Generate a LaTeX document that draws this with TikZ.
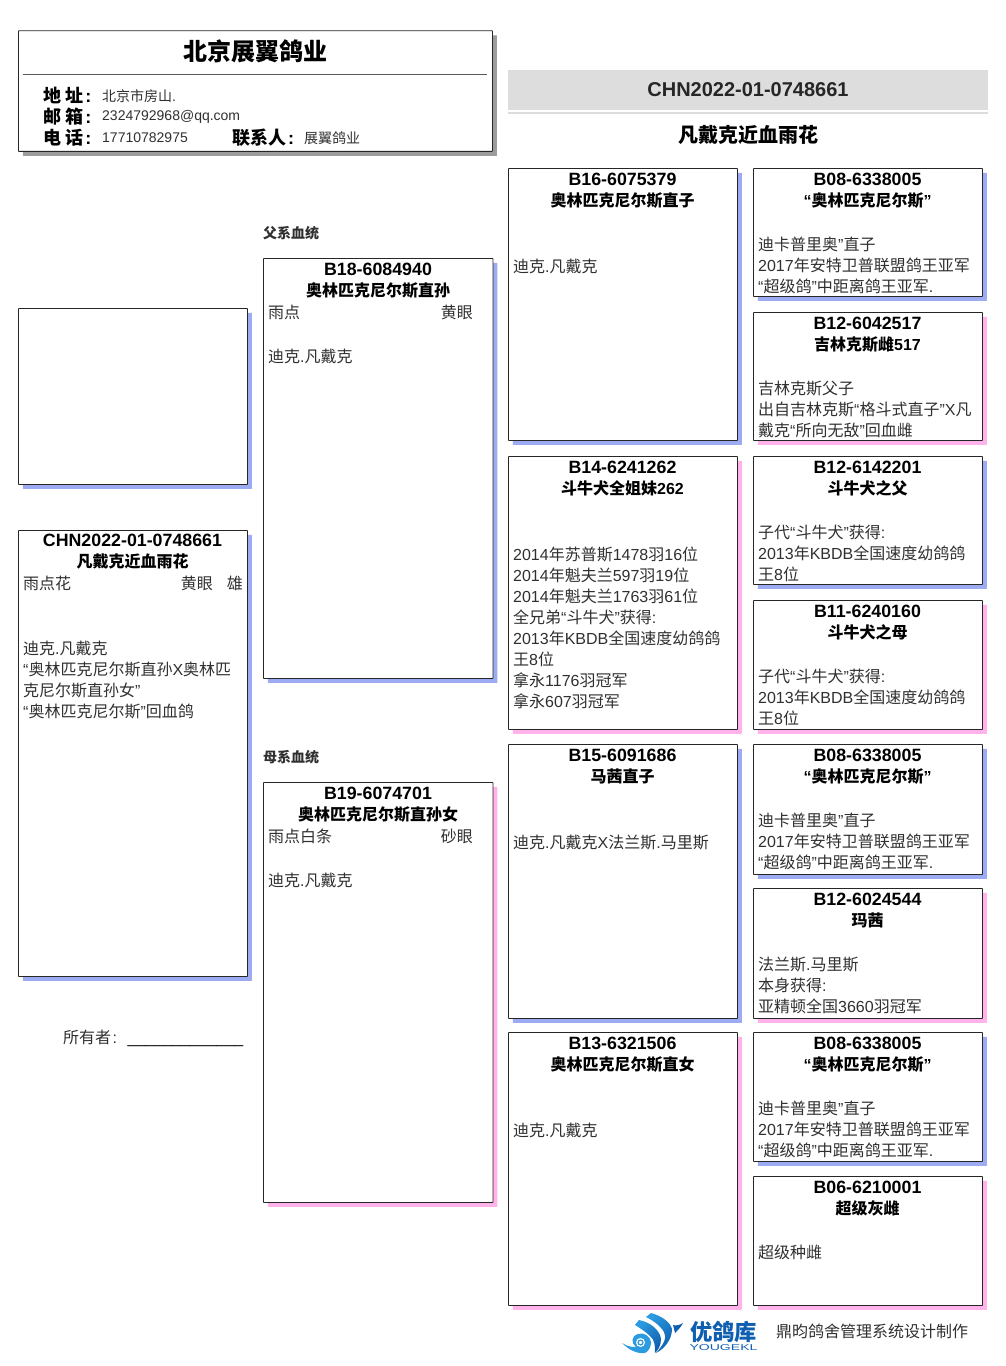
\documentclass[tikz,border=0pt]{standalone}
\usepackage{fontspec}
\setmainfont{Liberation Sans}
\newfontfamily\zhfont{Noto Sans CJK SC}
\newfontfamily\latinfont{Liberation Sans}
\newcommand{\en}[1]{{\latinfont #1}}
\usetikzlibrary{shadows}
\definecolor{shadowblue}{HTML}{9DABF2}
\definecolor{shadowpink}{HTML}{FFB3EA}
\definecolor{shadowgray}{HTML}{9C9C9C}
\definecolor{bandgray}{HTML}{DDDDDD}
\definecolor{inkgray}{HTML}{303030}
\definecolor{logoblue}{HTML}{0F5FB0}
\definecolor{logosky}{HTML}{2C9BE0}
\begin{document}
\begin{tikzpicture}[x=1pt, y=-1pt,
	card/.style={draw=black!85, fill=white, line width=0.9pt, rounded corners=0.5pt, anchor=north west, inner sep=0pt},
	bluebox/.style={card, general shadow={fill=shadowblue, shadow xshift=4.5pt, shadow yshift=-4.5pt}},
	pinkbox/.style={card, general shadow={fill=shadowpink, shadow xshift=4.5pt, shadow yshift=-4.5pt}},
	graybox/.style={card, general shadow={fill=shadowgray, shadow xshift=4.5pt, shadow yshift=-4.5pt}},
	ringno/.style={font=\latinfont\bfseries\fontsize{17.8}{21}\selectfont, inner sep=0pt, text=black},
	birdname/.style={font=\zhfont\bfseries\fontsize{16}{21}\selectfont, inner sep=0pt, text=black, anchor=base, yshift=-6.4pt},
	note/.style={font=\zhfont\fontsize{16}{21}\selectfont, inner sep=0pt, anchor=north west, align=left, text=inkgray, yshift=-1pt},
	trait/.style={font=\zhfont\fontsize{16}{21}\selectfont, inner sep=0pt, text=inkgray},
	sidehead/.style={font=\zhfont\bfseries\fontsize{14}{16}\selectfont, inner sep=0pt, anchor=west, text=inkgray},
	infohead/.style={font=\zhfont\bfseries\fontsize{18}{21}\selectfont, inner sep=0pt, anchor=west},
	infotext/.style={font=\zhfont\fontsize{14}{16}\selectfont, inner sep=0pt, anchor=west, text=inkgray}]
	\useasboundingbox (0,0) rectangle (1006,1366);

	% Farm header
	\node[graybox, minimum width=474pt, minimum height=120.6pt] (farm) at (18,30.3) {};
	\node[font=\zhfont\bfseries\fontsize{24}{28}\selectfont, inner sep=0pt] (farmname) at (255.5,51) {北京展翼鸽业};
	\coordinate (ruleL) at (23,74.5);
	\coordinate (ruleR) at (487,74.5);
	\draw[black!65] (ruleL) -- (ruleR);
	\node[infohead] (addrhead) at (43,95) {地 址\hspace{2pt}\en{:}};
	\node[infohead] (mailhead) at (43,116.4) {邮 箱\hspace{2pt}\en{:}};
	\node[infohead] (telhead) at (43,137.4) {电 话\hspace{2pt}\en{:}};
	\node[infohead] (contacthead) at (232,137.4) {联系人\hspace{2pt}\en{:}};
	\node[infotext] (addr) at (102,96) {北京市房山\en{.}};
	\node[infotext] (mail) at (102,117) {\en{2324792968@qq.com}};
	\node[infotext] (tel) at (102,138) {\en{17710782975}};
	\node[infotext] (contact) at (304,138) {展翼鸽业};

	% Title band
	\node[fill=bandgray, anchor=north west, inner sep=0pt, minimum width=480pt, minimum height=40pt] (band) at (508,70) {};
	\node[fill=bandgray, anchor=north west, inner sep=0pt, minimum width=480pt, minimum height=2pt] (bandline) at (508,112) {};
	\node[font=\latinfont\bfseries\fontsize{20}{24}\selectfont, text=black!85, inner sep=0pt] (ring) at (748,90) {CHN2022-01-0748661};
	\node[font=\zhfont\bfseries\fontsize{20}{24}\selectfont, inner sep=0pt] (name) at (748,135) {凡戴克近血雨花};

	% Photo and subject
	\node[bluebox, minimum width=229pt, minimum height=176pt] (photo) at (18,308) {};
	\node[bluebox, minimum width=229pt, minimum height=446pt] (self) at (18,530) {};
	\node[ringno] (selfring) at (132.5,540) {CHN2022-01-0748661};
	\node[birdname] (selfname) at (132.5,561) {凡戴克近血雨花};
	\node[trait, anchor=west] (selfcolor) at (23,583) {雨点花};
	\node[trait, anchor=east] (selfeye) at (213,583) {黄眼};
	\node[trait, anchor=east] (selfsex) at (243,583) {雄};
	\node[note] (selfnote) at (23,640) {迪克\en{.}凡戴克\\\en{“}奥林匹克尼尔斯直孙\en{X}奥林匹\\克尼尔斯直孙女\en{”}\\\en{“}奥林匹克尼尔斯\en{”}回血鸽};
	\node[trait, anchor=west] (owner) at (63,1037) {所有者\hspace{1.5pt}\en{:}};
	\node[trait, anchor=west, text=black] (ownerline) at (127.5,1045) {\en{\_\_\_\_\_\_\_\_\_\_\_\_\_}};

	% Parents
	\node[sidehead] (sirehead) at (263,233) {父系血统};
	\node[bluebox, minimum width=229.5pt, minimum height=420pt] (sire) at (263,258) {};
	\node[ringno] (sirering) at (378,269) {B18-6084940};
	\node[birdname] (sirename) at (378,290) {奥林匹克尼尔斯直孙};
	\node[trait, anchor=west] (sirecolor) at (268,312) {雨点};
	\node[trait, anchor=east] (sireeye) at (473,312) {黄眼};
	\node[note] (sirenote) at (268,348) {迪克\en{.}凡戴克};

	\node[sidehead] (damhead) at (263,757) {母系血统};
	\node[pinkbox, minimum width=229.5pt, minimum height=420pt] (dam) at (263,782) {};
	\node[ringno] (damring) at (378,793) {B19-6074701};
	\node[birdname] (damname) at (378,814) {奥林匹克尼尔斯直孙女};
	\node[trait, anchor=west] (damcolor) at (268,836) {雨点白条};
	\node[trait, anchor=east] (dameye) at (473,836) {砂眼};
	\node[note] (damnote) at (268,872) {迪克\en{.}凡戴克};

	% Grandparents
	\node[bluebox, minimum width=229pt, minimum height=272pt] (gpa) at (508,168) {};
	\node[ringno] (gparing) at (622.5,179) {B16-6075379};
	\node[birdname] (gpaname) at (622.5,200) {奥林匹克尼尔斯直子};
	\node[note] (gpanote) at (513,258) {迪克\en{.}凡戴克};

	\node[pinkbox, minimum width=229pt, minimum height=273pt] (gpb) at (508,456) {};
	\node[ringno] (gpbring) at (622.5,467) {B14-6241262};
	\node[birdname] (gpbname) at (622.5,488) {斗牛犬全姐妹\en{262}};
	\node[note] (gpbnote) at (513,546) {\en{2014}年苏普斯\en{1478}羽\en{16}位\\\en{2014}年魁夫兰\en{597}羽\en{19}位\\\en{2014}年魁夫兰\en{1763}羽\en{61}位\\全兄弟\en{“}斗牛犬\en{”}获得\en{:}\\\en{2013}年\en{KBDB}全国速度幼鸽鸽\\王\en{8}位\\拿永\en{1176}羽冠军\\拿永\en{607}羽冠军};

	\node[bluebox, minimum width=229pt, minimum height=274pt] (gpc) at (508,744) {};
	\node[ringno] (gpcring) at (622.5,755) {B15-6091686};
	\node[birdname] (gpcname) at (622.5,776) {马茜直子};
	\node[note] (gpcnote) at (513,834) {迪克\en{.}凡戴克\en{X}法兰斯\en{.}马里斯};

	\node[pinkbox, minimum width=229pt, minimum height=273pt] (gpd) at (508,1032) {};
	\node[ringno] (gpdring) at (622.5,1043) {B13-6321506};
	\node[birdname] (gpdname) at (622.5,1064) {奥林匹克尼尔斯直女};
	\node[note] (gpdnote) at (513,1122) {迪克\en{.}凡戴克};

	% Great-grandparents
	\node[bluebox, minimum width=229pt, minimum height=128pt] (ggpa) at (753,168) {};
	\node[ringno] (ggparing) at (867.5,179) {B08-6338005};
	\node[birdname] (ggpaname) at (867.5,200) {\en{“}奥林匹克尼尔斯\en{”}};
	\node[note] (ggpanote) at (758,236) {迪卡普里奥\en{”}直子\\\en{2017}年安特卫普联盟鸽王亚军\\\en{“}超级鸽\en{”}中距离鸽王亚军\en{.}};

	\node[pinkbox, minimum width=229pt, minimum height=128pt] (ggpb) at (753,312) {};
	\node[ringno] (ggpbring) at (867.5,323) {B12-6042517};
	\node[birdname] (ggpbname) at (867.5,344) {吉林克斯雌\en{517}};
	\node[note] (ggpbnote) at (758,380) {吉林克斯父子\\出自吉林克斯\en{“}格斗式直子\en{”X}凡\\戴克\en{“}所向无敌\en{”}回血雌};

	\node[bluebox, minimum width=229pt, minimum height=128pt] (ggpc) at (753,456) {};
	\node[ringno] (ggpcring) at (867.5,467) {B12-6142201};
	\node[birdname] (ggpcname) at (867.5,488) {斗牛犬之父};
	\node[note] (ggpcnote) at (758,524) {子代\en{“}斗牛犬\en{”}获得\en{:}\\\en{2013}年\en{KBDB}全国速度幼鸽鸽\\王\en{8}位};

	\node[pinkbox, minimum width=229pt, minimum height=129pt] (ggpd) at (753,600) {};
	\node[ringno] (ggpdring) at (867.5,611) {B11-6240160};
	\node[birdname] (ggpdname) at (867.5,632) {斗牛犬之母};
	\node[note] (ggpdnote) at (758,668) {子代\en{“}斗牛犬\en{”}获得\en{:}\\\en{2013}年\en{KBDB}全国速度幼鸽鸽\\王\en{8}位};

	\node[bluebox, minimum width=229pt, minimum height=130pt] (ggpe) at (753,744) {};
	\node[ringno] (ggpering) at (867.5,755) {B08-6338005};
	\node[birdname] (ggpename) at (867.5,776) {\en{“}奥林匹克尼尔斯\en{”}};
	\node[note] (ggpenote) at (758,812) {迪卡普里奥\en{”}直子\\\en{2017}年安特卫普联盟鸽王亚军\\\en{“}超级鸽\en{”}中距离鸽王亚军\en{.}};

	\node[pinkbox, minimum width=229pt, minimum height=130pt] (ggpf) at (753,888) {};
	\node[ringno] (ggpfring) at (867.5,899) {B12-6024544};
	\node[birdname] (ggpfname) at (867.5,920) {玛茜};
	\node[note] (ggpfnote) at (758,956) {法兰斯\en{.}马里斯\\本身获得\en{:}\\亚精顿全国\en{3660}羽冠军};

	\node[bluebox, minimum width=229pt, minimum height=129pt] (ggpg) at (753,1032) {};
	\node[ringno] (ggpgring) at (867.5,1043) {B08-6338005};
	\node[birdname] (ggpgname) at (867.5,1064) {\en{“}奥林匹克尼尔斯\en{”}};
	\node[note] (ggpgnote) at (758,1100) {迪卡普里奥\en{”}直子\\\en{2017}年安特卫普联盟鸽王亚军\\\en{“}超级鸽\en{”}中距离鸽王亚军\en{.}};

	\node[pinkbox, minimum width=229pt, minimum height=129pt] (ggph) at (753,1176) {};
	\node[ringno] (ggphring) at (867.5,1187) {B06-6210001};
	\node[birdname] (ggphname) at (867.5,1208) {超级灰雌};
	\node[note] (ggphnote) at (758,1244) {超级种雌};

	% Logo and footer
	\shade[left color=logosky, right color=logoblue, shading angle=45] (651,1313) .. controls (662,1316) and (670,1322) .. (672,1329) .. controls (672,1340) and (664,1349) .. (656,1353) .. controls (664,1344) and (667,1338) .. (664,1332) .. controls (660,1325) and (652,1320) .. (646,1317) -- cycle;
	\shade[left color=logosky, right color=logoblue, shading angle=45] (639,1320) .. controls (650,1322) and (660,1330) .. (661,1339) .. controls (661,1346) and (658,1350) .. (655,1353) .. controls (655,1346) and (655,1340) .. (650,1336) .. controls (646,1332) and (640,1328) .. (635,1325) -- cycle;
	\fill[logoblue] (673,1325) .. controls (676,1326) and (680,1325) .. (683,1323) .. controls (681,1327) and (678,1330) .. (675,1333) -- cycle;
	\fill[logosky] (622,1343) .. controls (628,1347) and (633,1347) .. (636,1347) .. controls (631,1343) and (631,1336) .. (638,1334) .. controls (644,1332) and (650,1336) .. (651,1342) .. controls (651,1347) and (649,1351) .. (645,1353) .. controls (637,1354) and (629,1350) .. (622,1343) -- cycle;
	\fill[white] (640.5,1342.5) circle (4.5pt);
	\draw[logosky, line width=1.3pt] (640.5,1342.5) circle (2.4pt);
	\node[font=\zhfont\bfseries\fontsize{22.3}{24}\selectfont, text=logoblue, inner sep=0pt] (logotext) at (723.5,1332) {优鸽库};
	\node[font=\latinfont\fontsize{8.5}{10}\selectfont, text=logoblue, inner sep=0pt] (logosub) at (723.5,1348) {\scalebox{1.65}[1]{YOUGEKL}};
	\node[font=\zhfont\fontsize{16}{18}\selectfont, text=inkgray, inner sep=0pt] (maker) at (872,1331) {鼎昀鸽舍管理系统设计制作};
\end{tikzpicture}
\end{document}
